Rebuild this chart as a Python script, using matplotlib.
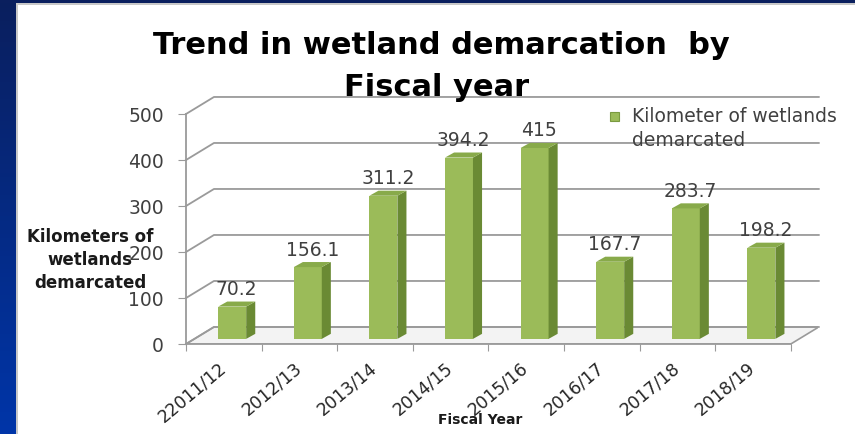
import numpy as np
import matplotlib
matplotlib.use("Agg")
import matplotlib.pyplot as plt
from matplotlib.patches import Polygon, Rectangle
from matplotlib.colors import LinearSegmentedColormap

# data
years = ["22011/12", "2012/13", "2013/14", "2014/15", "2015/16", "2016/17", "2017/18", "2018/19"]
km_demarcated = [70.2, 156.1, 311.2, 394.2, 415, 167.7, 283.7, 198.2]
y_ticks = [0, 100, 200, 300, 400, 500]

FRONT = "#9bbb59"
SIDE = "#6a8a34"
TOP = "#88aa4a"
GRID = "#9a9a9a"
TEXT = "#404040"

W, H = 855, 435


def fx(px):
    return px / W


def fy(py):
    return (H - py) / H


fig = plt.figure(figsize=(8.55, 4.35), dpi=100)

# blue slide background with a white panel
bg = fig.add_axes([0, 0, 1, 1])
bg.set_axis_off()
cmap = LinearSegmentedColormap.from_list("slide", ["#0a1f5e", "#0035a8"])
bg.imshow(np.linspace(0, 1, 100).reshape(-1, 1), cmap=cmap, aspect="auto",
          extent=[0, 1, 0, 1])
bg.set_xlim(0, 1)
bg.set_ylim(0, 1)
bg.add_patch(Rectangle((fx(16), 0), 1 - fx(16), fy(4), facecolor="#c8c8c8",
                       edgecolor="none", transform=bg.transAxes))
bg.add_patch(Rectangle((fx(18), 0), 1 - fx(18), fy(6), facecolor="white",
                       edgecolor="none", transform=bg.transAxes))

# 3D-looking bar chart drawn on a flat axes
ax = fig.add_axes([fx(186), fy(345), fx(632), (345 - 98) / H])
ax.patch.set_alpha(0)
n = len(years)
DX, DY = 0.37, 37.0          # wall depth in data units
ax.set_xlim(-0.5, -0.5 + 632 / 75.6)
ax.set_ylim(0, 247 / 0.46)

# floor
floor = Polygon([(-0.5, 0), (n - 0.5, 0), (n - 0.5 + DX, DY), (-0.5 + DX, DY)],
                closed=True, facecolor="#f3f3f3", edgecolor=GRID, lw=1.2, zorder=1)
ax.add_patch(floor)

# walls / gridlines
for v in y_ticks:
    ax.plot([-0.5, -0.5 + DX, n - 0.5 + DX], [v, v + DY, v + DY],
            color=GRID, lw=1.3, zorder=1, clip_on=False)

# bars
f = 0.3
w = 0.37
sdx, sdy = 0.12, 11.0
base = f * DY
xs = np.arange(n) + f * DX
ax.bar(xs, km_demarcated, width=w, bottom=base, color=FRONT, zorder=3)
for x, v in zip(xs, km_demarcated):
    r = x + w / 2
    l = x - w / 2
    top = base + v
    ax.add_patch(Polygon([(r, base), (r + sdx, base + sdy), (r + sdx, top + sdy), (r, top)],
                         closed=True, facecolor=SIDE, edgecolor="none", zorder=3))
    ax.add_patch(Polygon([(l, top), (r, top), (r + sdx, top + sdy), (l + sdx, top + sdy)],
                         closed=True, facecolor=TOP, edgecolor="none", zorder=3))
    ax.annotate(f"{v:g}", (x + sdx / 2, top), xytext=(0, 13), textcoords="offset points",
                ha="center", va="center", fontsize=13.5, color=TEXT, zorder=4)

# axes styling
for side in ["top", "right"]:
    ax.spines[side].set_visible(False)
ax.spines["left"].set_bounds(0, 500)
ax.spines["bottom"].set_bounds(-0.5, n - 0.5)
ax.spines["left"].set_color(GRID)
ax.spines["bottom"].set_color(GRID)
ax.spines["left"].set_linewidth(1.3)
ax.spines["bottom"].set_linewidth(1.3)

ax.set_yticks(y_ticks)
ax.set_yticklabels([str(t) for t in y_ticks], fontsize=13.5, color=TEXT)
ax.tick_params(axis="y", length=6, color=GRID, pad=10)

ax.set_xticks(np.arange(n + 1) - 0.5)
ax.set_xticklabels([])
ax.tick_params(axis="x", which="major", length=5, color=GRID)
ax.set_xticks(np.arange(n), minor=True)
ax.set_xticklabels(years, minor=True, rotation=40, ha="right", va="center",
                   rotation_mode="anchor", fontsize=12.5, color="#262626")
ax.tick_params(axis="x", which="minor", length=0, pad=15)

# text
fig.text(0.516, fy(45), "Trend in wetland demarcation  by", ha="center", va="center",
         fontsize=22, fontweight="bold", color="black")
fig.text(0.511, fy(88), "Fiscal year", ha="center", va="center",
         fontsize=22, fontweight="bold", color="black")
fig.text(fx(90), fy(260), "Kilometers of\nwetlands\ndemarcated", ha="center", va="center",
         fontsize=12, fontweight="bold", color="#1a1a1a", linespacing=1.35)
fig.text(fx(480), fy(420), "Fiscal Year", ha="center", va="center",
         fontsize=10, fontweight="bold", color="#1a1a1a")

# legend
bg.add_patch(Rectangle((fx(610), fy(122)), fx(9), 9 / H, facecolor=FRONT,
                       edgecolor="#7a9a40", lw=0.8, transform=bg.transAxes))
fig.text(fx(632), fy(117), "Kilometer of wetlands", ha="left", va="center",
         fontsize=13.5, color=TEXT)
fig.text(fx(632), fy(140), "demarcated", ha="left", va="center",
         fontsize=13.5, color=TEXT)

fig.savefig("out.png", dpi=100)
